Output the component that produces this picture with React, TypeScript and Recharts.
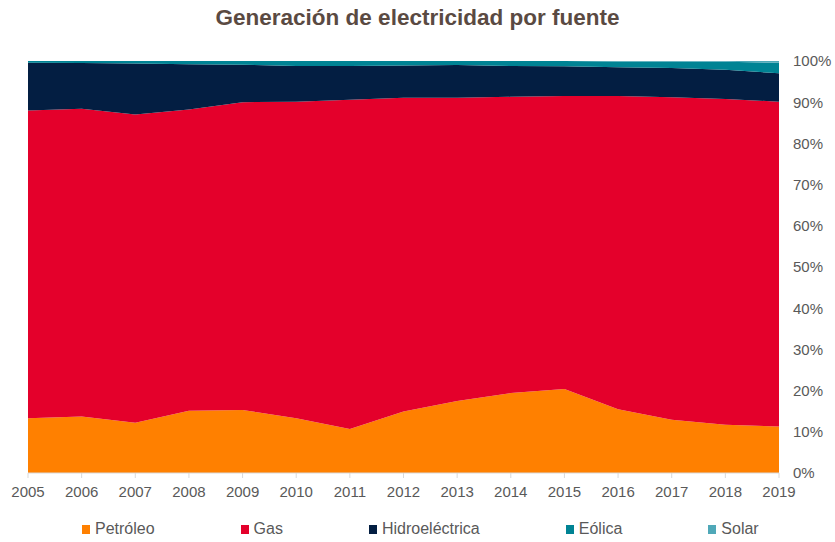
import { Area, AreaChart, Legend, XAxis, YAxis } from "recharts";

const years = ["2005", "2006", "2007", "2008", "2009", "2010", "2011", "2012", "2013", "2014", "2015", "2016", "2017", "2018", "2019"];
const petroleo = [13.3, 13.7, 12.2, 15.1, 15.3, 13.3, 10.7, 14.9, 17.5, 19.4, 20.4, 15.5, 12.9, 11.7, 11.3];
const gas = [74.7, 74.7, 74.8, 73.1, 74.7, 76.8, 79.9, 76.2, 73.6, 71.9, 71.1, 76.0, 78.3, 79.1, 78.8];
const hidro = [11.6, 11.1, 12.4, 11.0, 9.1, 8.7, 8.2, 7.8, 7.9, 7.5, 7.2, 7.0, 7.1, 7.1, 6.9];
const eolica = [0.4, 0.5, 0.6, 0.8, 0.9, 1.2, 1.2, 1.1, 1.0, 1.2, 1.3, 1.4, 1.6, 1.9, 2.6];
const solar = [0, 0, 0, 0, 0, 0, 0, 0, 0, 0, 0, 0.1, 0.1, 0.2, 0.4];
const yTicks = [0, 0.1, 0.2, 0.3, 0.4, 0.5, 0.6, 0.7, 0.8, 0.9, 1];

const series = [
  { key: "petroleo", name: "Petróleo", color: "#FF8000" },
  { key: "gas", name: "Gas", color: "#E4002B" },
  { key: "hidro", name: "Hidroeléctrica", color: "#031E42" },
  { key: "eolica", name: "Eólica", color: "#008394" },
  { key: "solar", name: "Solar", color: "#4FA8B8" },
];

const data = years.map((year, i) => ({
  year,
  petroleo: petroleo[i],
  gas: gas[i],
  hidro: hidro[i],
  eolica: eolica[i],
  solar: solar[i],
}));

const font = "'Liberation Sans', Arial, sans-serif";

const LegendBox = () => (
  <div
    style={{
      display: "flex",
      paddingLeft: 54,
      paddingTop: 20,
      gap: 86,
      fontFamily: font,
      fontSize: 16,
      lineHeight: "18px",
      color: "#595959",
    }}
  >
    {series.map((s) => (
      <div key={s.key} style={{ display: "flex", alignItems: "center" }}>
        <span style={{ width: 8, height: 9, background: s.color, marginRight: 5, display: "inline-block" }} />
        <span>{s.name}</span>
      </div>
    ))}
  </div>
);

export default function App() {
  return (
    <div style={{ position: "absolute", left: 0, top: 0, width: 835, height: 542, background: "#fff" }}>
      <div
        style={{
          position: "absolute",
          top: 5,
          width: 835,
          textAlign: "center",
          fontFamily: font,
          fontWeight: "bold",
          fontSize: 22.5,
          color: "#5a4a42",
        }}
      >
        Generación de electricidad por fuente
      </div>
      <AreaChart
        width={835}
        height={542}
        data={data}
        stackOffset="expand"
        margin={{ top: 61, right: 0, left: 28, bottom: 0 }}
      >
        <XAxis
          dataKey="year"
          height={27}
          tickSize={5}
          tickMargin={8}
          axisLine={{ stroke: "#d9d9d9" }}
          tickLine={{ stroke: "#d9d9d9" }}
          tick={{ fill: "#595959", fontSize: 15, fontFamily: font }}
          interval={0}
        />
        <YAxis
          orientation="right"
          width={56}
          ticks={yTicks}
          domain={[0, 1]}
          axisLine={false}
          tickLine={false}
          tickSize={0}
          tickMargin={14}
          tickFormatter={(v: number) => `${Math.round(v * 100)}%`}
          tick={{ fill: "#595959", fontSize: 15, fontFamily: font, textAnchor: "start" }}
        />
        {series.map((s) => (
          <Area
            key={s.key}
            type="linear"
            dataKey={s.key}
            name={s.name}
            stackId="1"
            fill={s.color}
            fillOpacity={1}
            stroke="none"
            isAnimationActive={false}
          />
        ))}
        <Legend verticalAlign="bottom" height={42} content={<LegendBox />} />
      </AreaChart>
    </div>
  );
}
